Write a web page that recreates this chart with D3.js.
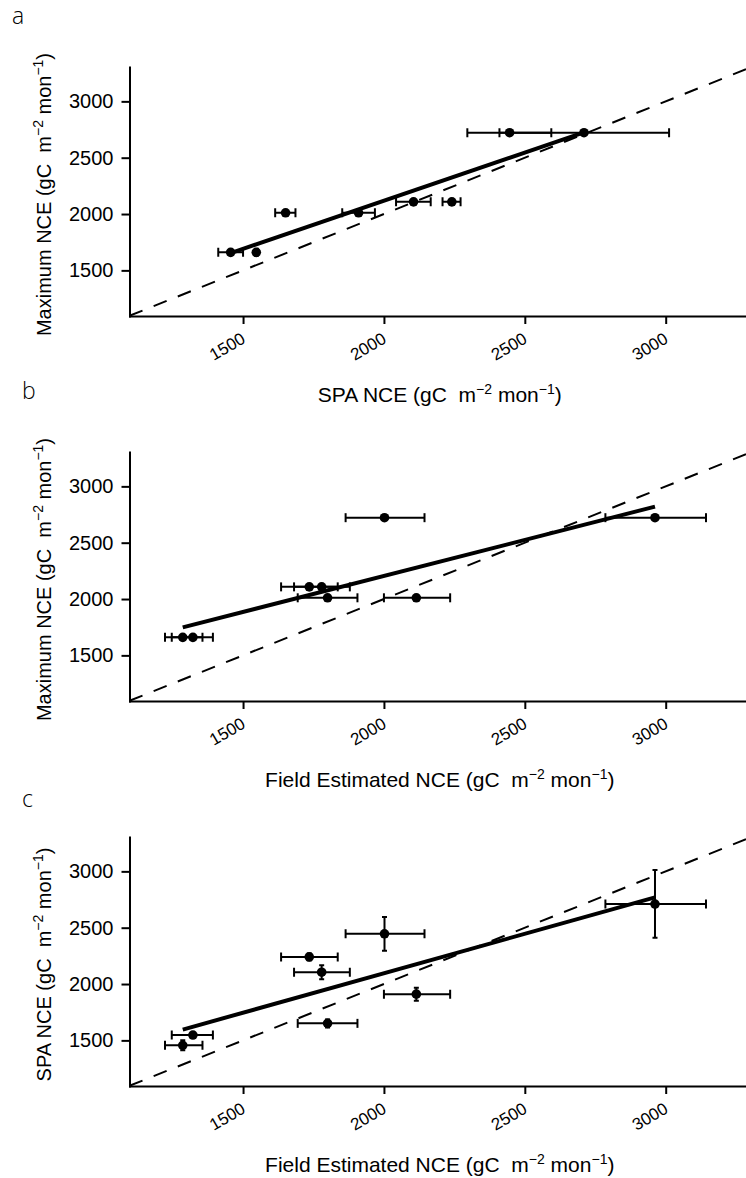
<!DOCTYPE html>
<html><head><meta charset="utf-8">
<script src="https://cdn.jsdelivr.net/npm/d3@7"></script>
<style>
body{margin:0;background:#fff}
svg text{font-family:"Liberation Sans",Arial,sans-serif;fill:#000;white-space:pre}
.plab{font-family:"Open Sans",sans-serif;font-weight:300}
</style>
</head><body>
<svg id="chart" width="746" height="1178"></svg>
<script>
// ---- data (one entry per site) ----
const fieldNCE = [1286, 1322, 1735, 1779, 1800, 2002, 2115, 2962];
const fieldLo  = [1223, 1247, 1635, 1681, 1694, 1864, 2000, 2786];
const fieldHi  = [1356, 1393, 1836, 1879, 1906, 2144, 2235, 3143];
const spaNCE   = [1456, 1547, 2241, 2105, 1651, 2446, 1910, 2710];
const spaLo    = [1412, 1542, 2208, 2043, 1614, 2296, 1852, 2410];
const spaHi    = [1500, 1552, 2272, 2166, 1686, 2594, 1968, 3012];
const maxNCE   = [1660, 1660, 2108, 2108, 2011, 2722, 2011, 2722];

const xTicks = [1500, 2000, 2500, 3000];
const yTicks = [1500, 2000, 2500, 3000];
const panelLabels = ["a", "b", "c"];
const xTitles = ["SPA NCE", "Field Estimated NCE", "Field Estimated NCE"];
const yTitles = ["Maximum NCE", "Maximum NCE", "SPA NCE"];

const panels = [
  {x: spaNCE,   xLo: spaLo,   xHi: spaHi,   y: maxNCE, yLo: null, yHi: null},
  {x: fieldNCE, xLo: fieldLo, xHi: fieldHi, y: maxNCE, yLo: null, yHi: null},
  {x: fieldNCE, xLo: fieldLo, xHi: fieldHi, y: spaNCE, yLo: spaLo, yHi: spaHi}
];

// ---- layout ----
const svg = d3.select("#chart");
const left = 129.5, right = 746, plotH = 249;
const tops = [67, 452, 837];
const xDomain = [1097, 3285], yDomain = [1095, 3305];
const labelPos = [[12, 24], [22, 399], [22, 807]];

function unitTitle(sel, main) {
  sel.append("tspan").text(main + " (gC  m");
  sel.append("tspan").attr("font-size", 14).attr("dy", -8).text("\u22122");
  sel.append("tspan").attr("dy", 8).text(" mon");
  sel.append("tspan").attr("font-size", 14).attr("dy", -8).text("\u22121");
  sel.append("tspan").attr("dy", 8).text(")");
}

function ols(xs, ys) {
  const mx = d3.mean(xs), my = d3.mean(ys);
  let sxy = 0, sxx = 0;
  xs.forEach((x, i) => { sxy += (x - mx) * (ys[i] - my); sxx += (x - mx) * (x - mx); });
  const b = sxy / sxx;
  return {b, a: my - b * mx};
}

panels.forEach((p, k) => {
  const top = tops[k], bottom = top + plotH;
  const x = d3.scaleLinear().domain(xDomain).range([left, right]);
  const y = d3.scaleLinear().domain(yDomain).range([bottom, top]);
  const g = svg.append("g");

  const clipId = "clip" + k;
  svg.append("clipPath").attr("id", clipId).append("rect")
    .attr("x", left).attr("y", top).attr("width", right - left).attr("height", plotH);

  const plot = g.append("g").attr("clip-path", `url(#${clipId})`);

  // 1:1 dashed line
  const lo = Math.max(xDomain[0], yDomain[0]), hi = Math.min(xDomain[1], yDomain[1]) + 60;
  plot.append("line")
    .attr("x1", x(lo)).attr("y1", y(lo)).attr("x2", x(hi)).attr("y2", y(hi))
    .attr("stroke", "#000").attr("stroke-width", 2).attr("stroke-dasharray", "14,12");

  const idx = d3.range(p.x.length);
  const capH = 4.5, capV = 2.5;
  const eb = plot.append("g").attr("stroke", "#000").attr("stroke-width", 2);
  idx.forEach(i => {
    const yy = y(p.y[i]);
    eb.append("line").attr("x1", x(p.xLo[i])).attr("x2", x(p.xHi[i])).attr("y1", yy).attr("y2", yy);
    eb.append("line").attr("x1", x(p.xLo[i])).attr("x2", x(p.xLo[i])).attr("y1", yy - capH).attr("y2", yy + capH);
    eb.append("line").attr("x1", x(p.xHi[i])).attr("x2", x(p.xHi[i])).attr("y1", yy - capH).attr("y2", yy + capH);
    if (p.yLo) {
      const xx = x(p.x[i]);
      eb.append("line").attr("x1", xx).attr("x2", xx).attr("y1", y(p.yLo[i])).attr("y2", y(p.yHi[i]));
      eb.append("line").attr("x1", xx - capV).attr("x2", xx + capV).attr("y1", y(p.yLo[i])).attr("y2", y(p.yLo[i]));
      eb.append("line").attr("x1", xx - capV).attr("x2", xx + capV).attr("y1", y(p.yHi[i])).attr("y2", y(p.yHi[i]));
    }
  });

  // points
  plot.selectAll("circle.pt").data(idx).join("circle")
    .attr("cx", i => x(p.x[i])).attr("cy", i => y(p.y[i])).attr("r", 4.8).attr("fill", "#000");

  // regression line
  const fit = ols(p.x, p.y);
  const [x0, x1] = d3.extent(p.x);
  plot.append("line")
    .attr("x1", x(x0)).attr("y1", y(fit.a + fit.b * x0))
    .attr("x2", x(x1)).attr("y2", y(fit.a + fit.b * x1))
    .attr("stroke", "#000").attr("stroke-width", 4);

  // axes
  const yAxis = g.append("g").attr("transform", `translate(${left},0)`)
    .call(d3.axisLeft(y).tickValues(yTicks).tickSize(8).tickPadding(8).tickSizeOuter(0).tickFormat(d3.format("d")));
  yAxis.selectAll("path,line").attr("stroke", "#000").attr("stroke-width", 2);
  yAxis.selectAll("text").attr("font-size", 20).attr("font-family", null);

  const xAxis = g.append("g").attr("transform", `translate(0,${bottom})`)
    .call(d3.axisBottom(x).tickValues(xTicks).tickSize(8).tickSizeOuter(0).tickFormat(d3.format("d")));
  xAxis.selectAll("path,line").attr("stroke", "#000").attr("stroke-width", 2);
  xAxis.selectAll("text").attr("font-size", 17).attr("font-family", null)
    .attr("y", 0).attr("dy", 0).attr("text-anchor", "end")
    .attr("transform", "translate(3,26) rotate(-30)");
  g.selectAll(".domain").attr("stroke-linecap", "square");

  // titles
  const xt = g.append("text").attr("x", (left + right) / 2 + 2).attr("y", bottom + 86)
    .attr("text-anchor", "middle").attr("font-size", 21);
  unitTitle(xt, xTitles[k]);
  const yt = g.append("text").attr("transform", `translate(51,${(top + bottom) / 2 + 3}) rotate(-90)`)
    .attr("text-anchor", "middle").attr("font-size", 20);
  unitTitle(yt, yTitles[k]);

  svg.append("text").attr("class", "plab").attr("x", labelPos[k][0]).attr("y", labelPos[k][1])
    .attr("font-size", 23).text(panelLabels[k]);
});
</script>
</body></html>
